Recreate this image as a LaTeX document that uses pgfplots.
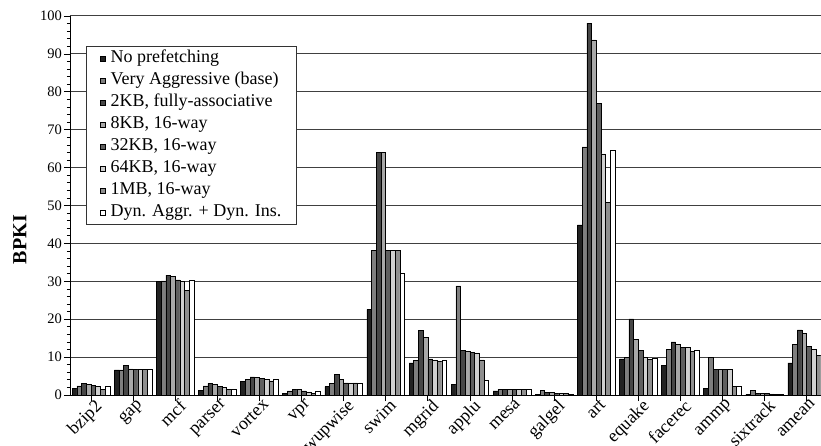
\documentclass[border=0pt]{standalone}
\usepackage{fontspec}
\setmainfont{Liberation Serif}
\usepackage{pgfplots}
\pgfplotsset{compat=1.18}
\usepackage{pgfplotstable}

\definecolor{cA}{HTML}{222222}
\definecolor{cB}{HTML}{7F7F7F}
\definecolor{cC}{HTML}{474747}
\definecolor{cD}{HTML}{A8A8A8}
\definecolor{cE}{HTML}{5F5F5F}
\definecolor{cF}{HTML}{D0D0D0}
\definecolor{cG}{HTML}{8F8F8F}
\definecolor{cH}{HTML}{FFFFFF}

% BPKI per benchmark for each configuration
\pgfplotstableread{
idx  s1    s2    s3    s4    s5    s6    s7    s8
0    1.8   2.4   3.1   2.9   2.6   2.3   1.5   2.3
1    6.6   6.6   7.8   6.9   6.7   6.7   6.7   6.7
2    30.0  30.1  31.6  31.3  30.4  30.0  27.6  30.2
3    1.2   2.4   3.1   2.8   2.3   2.0   1.5   1.5
4    3.5   4.1   4.8   4.7   4.4   4.2   3.7   4.1
5    0.5   1.1   1.5   1.5   1.1   0.8   0.4   1.1
6    2.2   3.1   5.5   4.1   3.2   3.2   3.2   3.2
7    22.6  38.1  64.1  64.1  38.1  38.1  38.1  32.1
8    8.5   9.1   17.0  15.2  9.5   9.1   8.8   9.1
9    2.8   28.8  11.8  11.5  11.3  11.1  9.3   3.8
10   1.1   1.5   1.5   1.5   1.5   1.5   1.5   1.5
11   0.2   1.2   0.7   0.6   0.5   0.5   0.35  0.25
12   44.9  65.5  98.1  93.7  77.0  63.6  50.8  64.6
13   9.5   9.85  20.1  14.6  11.8  9.85  9.4   9.8
14   7.8   12.0  14.0  13.4  12.6  12.6  11.6  11.9
15   1.8   9.85  6.7   6.7   6.7   6.7   2.3   2.3
16   0.2   1.2   0.5   0.45  0.35  0.3   0.1   0.1
17   8.5   13.4  17.2  16.3  12.8  12.0  10.4  10.5
}\bpki

\begin{document}
\begin{tikzpicture}
\begin{axis}[
  name=ax,
  scale only axis, width=751pt, height=379pt,
  xmin=-0.5, xmax=17.34, ymin=0, ymax=100,
  axis x line*=bottom, axis y line*=left,
  axis line style={-, black, line width=0.9pt},
  ybar=0pt, bar width=4.7pt,
  ytick={0,10,...,100}, minor y tick num=4,
  xtick={0,...,17},
  xticklabels={bzip2,gap,mcf,parser,vortex,vpr,wupwise,swim,mgrid,applu,mesa,galgel,art,equake,facerec,ammp,sixtrack,amean},
  ymajorgrids, grid style={black!75, line width=1pt},
  tick align=outside, major tick length=6pt, minor tick length=3pt,
  tick style={black, line width=0.7pt},
  /pgf/number format/assume math mode=true,
  x tick label style={font=\fontsize{18}{19}\selectfont, rotate=45, anchor=north east, inner sep=1pt, xshift=5pt, yshift=1pt},
  y tick label style={font=\fontsize{14.5}{15}\selectfont, inner sep=2pt},
  ylabel={BPKI},
  ylabel style={font=\bfseries\fontsize{20}{20}\selectfont, at={(axis description cs:-0.0666,0.41)}, anchor=center},
  legend cell align=left,
  legend image code/.code={
    \draw[#1, draw=black, line width=0.5pt] (0pt,-2.5pt) rectangle (5pt,2.5pt);
    \path[draw=none, fill=none] (0pt,0pt) -- (9pt,0pt);},
  legend style={at={(rel axis cs:0.0213,0.921)}, anchor=north west, draw=black!80, line width=0.8pt, fill=white,
    font=\fontsize{18}{19}\selectfont, inner xsep=14pt, inner ysep=3pt, row sep=3.5pt,
    nodes={inner xsep=1pt, inner ysep=1pt, text height=12.5pt, text depth=4pt}},
]
\addplot[fill=cA, draw=black, line width=0.5pt] table[x=idx,y=s1]{\bpki};
\addplot[fill=cB, draw=black, line width=0.5pt] table[x=idx,y=s2]{\bpki};
\addplot[fill=cC, draw=black, line width=0.5pt] table[x=idx,y=s3]{\bpki};
\addplot[fill=cD, draw=black, line width=0.5pt] table[x=idx,y=s4]{\bpki};
\addplot[fill=cE, draw=black, line width=0.5pt] table[x=idx,y=s5]{\bpki};
\addplot[fill=cF, draw=black, line width=0.5pt] table[x=idx,y=s6]{\bpki};
\addplot[fill=cG, draw=black, line width=0.5pt] table[x=idx,y=s7]{\bpki};
\addplot[fill=cH, draw=black, line width=0.5pt] table[x=idx,y=s8]{\bpki};
\legend{No prefetching, Very Aggressive (base), {2KB, fully-associative}, {8KB, 16-way}, {32KB, 16-way}, {64KB, 16-way}, {1MB, 16-way}, Dyn. Aggr. + Dyn. Ins.}
\end{axis}
\pgfresetboundingbox
\path ([shift={(-70pt,-50pt)}]ax.south west) rectangle ([shift={(0pt,16pt)}]ax.north east);
\end{tikzpicture}
\end{document}
